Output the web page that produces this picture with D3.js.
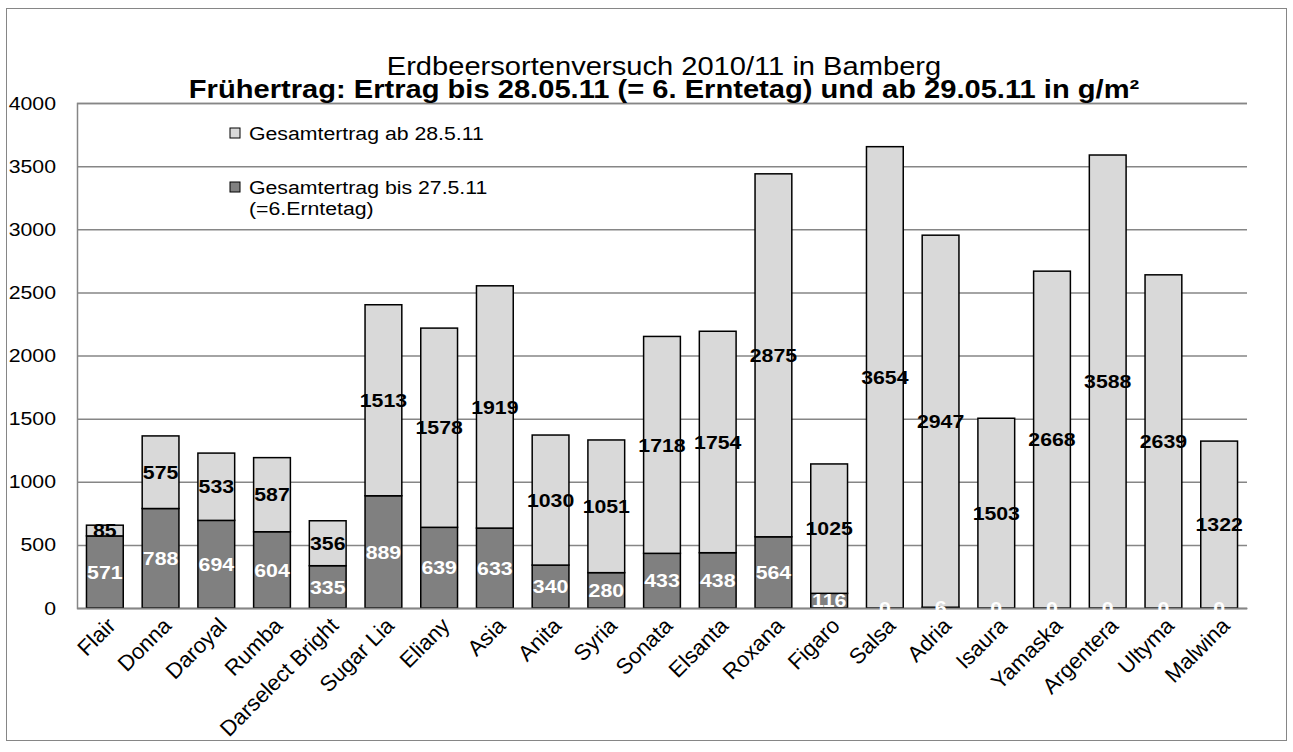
<!DOCTYPE html>
<html>
<head>
<meta charset="utf-8">
<script src="https://cdn.jsdelivr.net/npm/d3@7"></script>
<style>
  html, body { margin: 0; padding: 0; background: #fff; }
  svg { display: block; font-family: "Liberation Sans", Arial, sans-serif; }
</style>
</head>
<body>
<svg id="chart" width="1293" height="752"></svg>
<script>
const categories = ["Flair","Donna","Daroyal","Rumba","Darselect Bright","Sugar Lia","Eliany","Asia","Anita","Syria","Sonata","Elsanta","Roxana","Figaro","Salsa","Adria","Isaura","Yamaska","Argentera","Ultyma","Malwina"];
const earlyYield = [571,788,694,604,335,889,639,633,340,280,433,438,564,116,0,6,0,0,0,0,0];
const lateYield = [85,575,533,587,356,1513,1578,1919,1030,1051,1718,1754,2875,1025,3654,2947,1503,2668,3588,2639,1322];
const yTicks = [0,500,1000,1500,2000,2500,3000,3500,4000];
const titleLine1 = "Erdbeersortenversuch 2010/11 in Bamberg";
const titleLine2 = "Frühertrag: Ertrag bis 28.05.11 (= 6. Erntetag) und ab 29.05.11 in g/m²";
const legendLate = "Gesamtertrag ab 28.5.11";
const legendEarly = ["Gesamtertrag bis 27.5.11", "(=6.Erntetag)"];

const SX = 1.12; // horizontal text stretch seen in the reference
const svg = d3.select("#chart");
const plot = {left: 77, right: 1247, top: 103, bottom: 608};
const gridColor = "#868686";
const darkFill = "#808080";
const lightFill = "#d9d9d9";

function place(sel, px, py) {
  return sel.attr("x", 0).attr("y", 0).attr("transform", `translate(${px},${py}) scale(${SX},1)`);
}

// outer border
svg.append("rect").attr("x", 6.5).attr("y", 8.5).attr("width", 1280).attr("height", 732)
  .attr("fill", "#fff").attr("stroke", gridColor).attr("stroke-width", 1);

const x = d3.scaleBand().domain(categories).range([plot.left, plot.right])
  .paddingInner(0.34).paddingOuter(0.17);
const y = d3.scaleLinear().domain([0, 4000]).range([plot.bottom, plot.top]);

// y axis with gridlines
const yAxis = svg.append("g").attr("transform", `translate(${plot.left},0)`)
  .call(d3.axisLeft(y).tickValues(yTicks).tickSize(-(plot.right - plot.left)).tickPadding(20).tickFormat(d3.format("d")));
yAxis.select(".domain").attr("stroke", gridColor).attr("stroke-width", 1.5);
yAxis.selectAll(".tick line").attr("stroke", gridColor).attr("stroke-width", 1.5);
yAxis.selectAll(".tick text").attr("font-size", 19).attr("fill", "#000")
  .attr("font-family", "Liberation Sans, Arial, sans-serif")
  .attr("x", 0).attr("transform", `translate(-21,0) scale(${SX},1)`);

// bars
const data = categories.map((c, i) => ({c, early: earlyYield[i], late: lateYield[i]}));
const bars = svg.append("g");
bars.selectAll("rect.early").data(data).join("rect").attr("class", "early")
  .attr("x", d => x(d.c)).attr("width", x.bandwidth())
  .attr("y", d => y(d.early)).attr("height", d => y(0) - y(d.early))
  .attr("fill", darkFill).attr("stroke", "#000").attr("stroke-width", 1.5);
bars.selectAll("rect.late").data(data).join("rect").attr("class", "late")
  .attr("x", d => x(d.c)).attr("width", x.bandwidth())
  .attr("y", d => y(d.early + d.late)).attr("height", d => y(d.early) - y(d.early + d.late))
  .attr("fill", lightFill).attr("stroke", "#000").attr("stroke-width", 1.5);

// x axis
const xAxis = svg.append("g").attr("transform", `translate(0,${plot.bottom})`)
  .call(d3.axisBottom(x).tickSize(0).tickPadding(0));
xAxis.select(".domain").attr("stroke", gridColor).attr("stroke-width", 1.5);
xAxis.selectAll(".tick text")
  .attr("font-size", 22).attr("fill", "#000")
  .attr("font-family", "Liberation Sans, Arial, sans-serif")
  .attr("text-anchor", "end")
  .attr("x", 0).attr("y", 0).attr("dy", 0)
  .attr("transform", "translate(12,19) rotate(-45)");

// data labels
const labels = svg.append("g").attr("font-weight", "bold").attr("font-size", 19).attr("text-anchor", "middle");
labels.selectAll("text.early").data(data).join("text").attr("class", "early")
  .each(function(d) { place(d3.select(this), x(d.c) + x.bandwidth() / 2, y(d.early / 2)); })
  .attr("dy", "0.35em")
  .attr("fill", "#fff").text(d => d.early);
labels.selectAll("text.late").data(data).join("text").attr("class", "late")
  .each(function(d) { place(d3.select(this), x(d.c) + x.bandwidth() / 2, y(d.early + d.late / 2)); })
  .attr("dy", "0.35em")
  .attr("fill", "#000").text(d => d.late);

// titles
const tcx = 664;
place(svg.append("text"), tcx, 75).attr("text-anchor", "middle")
  .attr("font-size", 26).text(titleLine1);
place(svg.append("text"), tcx, 98).attr("text-anchor", "middle")
  .attr("font-size", 26).attr("font-weight", "bold").text(titleLine2);

// legend
const lg = svg.append("g");
lg.append("rect").attr("x", 230).attr("y", 128).attr("width", 10).attr("height", 10)
  .attr("fill", lightFill).attr("stroke", "#000").attr("stroke-width", 1);
place(lg.append("text"), 249, 133).attr("dy", "0.35em").attr("font-size", 19).text(legendLate);
lg.append("rect").attr("x", 230).attr("y", 182).attr("width", 10).attr("height", 10)
  .attr("fill", darkFill).attr("stroke", "#000").attr("stroke-width", 1);
place(lg.append("text"), 249, 187).attr("dy", "0.35em").attr("font-size", 19).text(legendEarly[0]);
place(lg.append("text"), 249, 208).attr("dy", "0.35em").attr("font-size", 19).text(legendEarly[1]);
</script>
</body>
</html>
